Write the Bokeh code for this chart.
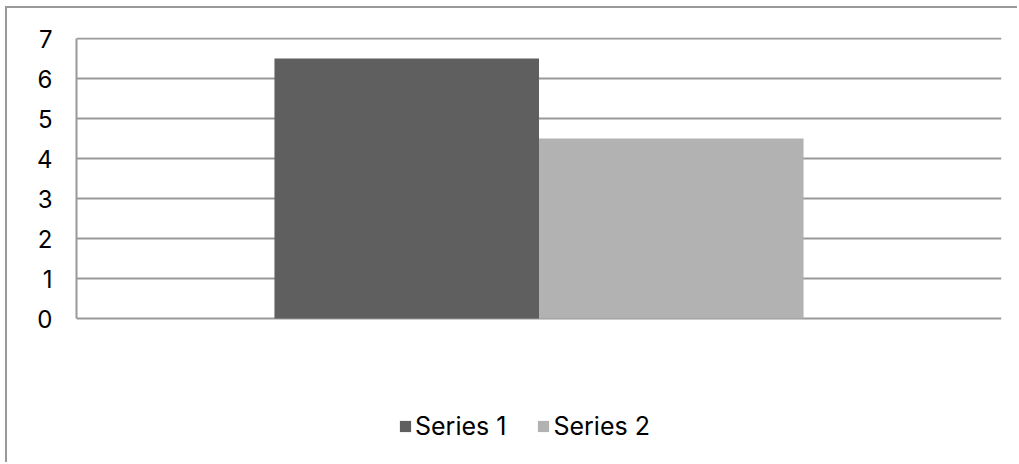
from bokeh.plotting import figure
from bokeh.models import FactorRange, Range1d, Legend, LegendItem, ColumnDataSource, FixedTicker
from bokeh.transform import dodge
from bokeh.embed import file_html
from bokeh.resources import INLINE

categories = ["Category 1"]
series1 = [6.5]
series2 = [4.5]
series_names = ["Series 1", "Series 2"]
y_ticks = [0, 1, 2, 3, 4, 5, 6, 7]

FONT = "Inter"
GRID = "#9a9a9a"

src = ColumnDataSource(dict(cat=categories, s1=series1, s2=series2))

p = figure(width=1012, height=456, output_backend="svg", toolbar_location=None,
           x_range=FactorRange(*categories, range_padding=0),
           y_range=Range1d(-3.35, 7.025),
           min_border_left=69, min_border_right=18, min_border_top=29, min_border_bottom=12)
p.styles = {"border-left": "2px solid #9a9a9a", "border-top": "2px solid #9a9a9a",
            "margin-left": "5px", "margin-top": "6px"}

r1 = p.vbar(x=dodge("cat", -0.143, range=p.x_range), top="s1", width=0.286, source=src,
            fill_color="#5f5f5f", line_color=None)
r2 = p.vbar(x=dodge("cat", 0.143, range=p.x_range), top="s2", width=0.286, source=src,
            fill_color="#b2b2b2", line_color=None)

p.outline_line_color = None
p.xaxis.visible = False
p.xgrid.grid_line_color = None
p.ygrid.grid_line_color = GRID
p.ygrid.grid_line_width = 2
p.ygrid.ticker = FixedTicker(ticks=y_ticks)

p.yaxis.ticker = FixedTicker(ticks=y_ticks)
p.yaxis.bounds = (0, 7)
p.yaxis.axis_line_color = GRID
p.yaxis.axis_line_width = 2
p.yaxis.major_tick_line_color = None
p.yaxis.minor_tick_line_color = None
p.yaxis.major_tick_out = 0
p.yaxis.major_label_standoff = 24
p.yaxis.major_label_text_font = FONT
p.yaxis.major_label_text_font_size = "24px"
p.yaxis.major_label_text_color = "black"

legend = Legend(items=[LegendItem(label=series_names[0], renderers=[r1]),
                       LegendItem(label=series_names[1], renderers=[r2])],
                orientation="horizontal", location=(322, 11),
                label_text_font=FONT, label_text_font_size="25px", label_text_color="black",
                glyph_width=14, glyph_height=14, label_standoff=3, spacing=30,
                padding=0, margin=0, border_line_color=None, background_fill_alpha=0)
p.add_layout(legend, "center")

open("out.html", "w").write(file_html(p, INLINE))
